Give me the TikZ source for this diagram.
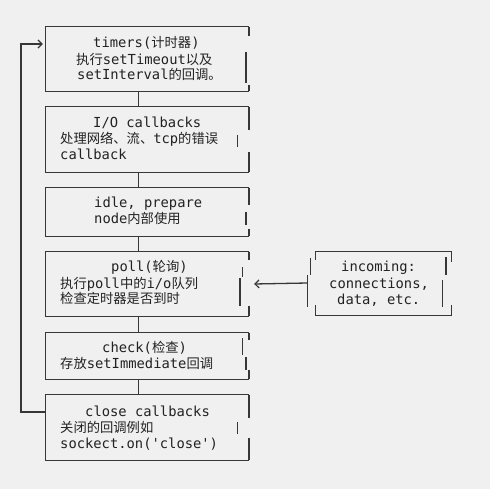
\documentclass[tikz,border=0pt]{standalone}
\usepackage{fontspec}
\setmonofont{DejaVu Sans Mono}
\newfontfamily\zhfont{Noto Sans CJK SC}
\newcommand\zh[1]{{\zhfont\fontsize{13.3}{16}\selectfont #1}}
\usetikzlibrary{arrows.meta,calc}
\definecolor{bgc}{RGB}{240,240,240}
\definecolor{lnc}{RGB}{55,55,55}
\definecolor{txc}{RGB}{34,34,34}
\begin{document}
\begin{tikzpicture}[x=1pt,y=1pt,
  boxn/.style={draw=none,rectangle,inner sep=0,minimum width=203pt},
  ln/.style={draw=lnc,line width=1.3pt},
  lbl/.style={anchor=base west,inner sep=0,text=txc,font=\ttfamily\fontsize{13.8}{16}\selectfont}]
\fill[bgc] (0,0) rectangle (490,-489);
\useasboundingbox (0,0) rectangle (490,-489);
% box nodes
\node[boxn,minimum height=64pt] (b1) at (147.5,-59) {};
\node[boxn,minimum height=65pt] (b2) at (147.5,-139.5) {};
\node[boxn,minimum height=48pt] (b3) at (147.5,-212) {};
\node[boxn,minimum height=64pt] (b4) at (147.5,-284) {};
\node[boxn,minimum height=46pt] (b5) at (147.5,-356) {};
\node[boxn,minimum height=65pt] (b6) at (147.5,-427.5) {};
\node[boxn,minimum width=135pt,minimum height=63pt] (inc) at (383.5,-283.5) {};
% box borders (left, top, bottom)
\foreach \b in {b1,b2,b3,b4,b5,b6}{
  \draw[ln] (\b.north east) -- (\b.north west) -- (\b.south west) -- (\b.south east);
}
% ragged right sides
\draw[ln] (249,-27) -- (249,-36);  \draw[ln] (246,-52) -- (246,-83);  \draw[ln] (249,-85) -- (249,-91);
\draw[ln] (249,-107) -- (249,-130); \draw[ln] (237.7,-135) -- (237.7,-147); \draw[ln] (249,-152) -- (249,-172);
\draw[ln] (249,-188) -- (249,-205); \draw[ln] (246,-212) -- (246,-225); \draw[ln] (249,-229) -- (249,-236);
\draw[ln] (249,-252) -- (249,-260); \draw[ln] (242.7,-267) -- (242.7,-277); \draw[ln] (240,-278) -- (240,-306); \draw[ln] (249,-306) -- (249,-316);
\draw[ln] (249,-333) -- (249,-340); \draw[ln] (242.7,-338) -- (242.7,-355); \draw[ln] (246,-357) -- (246,-370); \draw[ln] (249,-370) -- (249,-379);
\draw[ln] (249,-395) -- (249,-418); \draw[ln] (237.7,-422) -- (237.7,-434); \draw[ln] (249,-438) -- (249,-460);
% incoming box
\draw[ln] ([yshift=-8pt]inc.north west) -- (inc.north west) -- (inc.north east) -- ([yshift=-10pt]inc.north east);
\draw[ln] ([yshift=10pt]inc.south west) -- (inc.south west) -- (inc.south east) -- ([yshift=10pt]inc.south east);
\draw[ln] (310.7,-258) -- (310.7,-275); \draw[ln] (307.7,-275) -- (307.7,-307);
\draw[ln] (446,-257) -- (446,-275); \draw[ln] (442.7,-280) -- (442.7,-307);
% connectors
\foreach \a/\c in {b1/b2,b2/b3,b3/b4,b4/b5,b5/b6}{
  \draw[ln] ([xshift=93pt]\a.south west) -- ([xshift=93pt]\c.north west);
}
\coordinate (lpb) at (21,-412);
\coordinate (lpt) at (21,-44);
\draw[ln,-{Straight Barb[length=4pt,width=8pt,line width=1.2pt]}] ([yshift=15.5pt]b6.west) -- (lpb) -- (lpt) -- ([xshift=-3pt,yshift=15pt]b1.west);
\draw[ln,-{Straight Barb[length=4pt,width=8pt,line width=1.2pt]}] ([xshift=-8.5pt,yshift=0.5pt]inc.west) -- ([xshift=5pt]b4.east);
% texts
\node[lbl] (t11) at (93,-48) {timers(\zh{计时器})};
\node[lbl] (t12) at (76,-65) {\zh{执行}setTimeout\zh{以及}};
\node[lbl] (t13) at (77,-80) {setInterval\zh{的回调。}};
\node[lbl] (t21) at (93,-128) {I/O callbacks};
\node[lbl] (t22) at (60,-144) {\zh{处理网络、流、}tcp\zh{的错误}};
\node[lbl] (t23) at (60,-160) {callback};
\node[lbl] (t31) at (94,-208) {idle, prepare};
\node[lbl] (t32) at (94,-224) {node\zh{内部使用}};
\node[lbl] (t41) at (111,-272) {poll(\zh{轮询})};
\node[lbl] (t42) at (60,-288) {\zh{执行}poll\zh{中的}i/o\zh{队列}};
\node[lbl] (t43) at (60,-303) {\zh{检查定时器是否到时}};
\node[lbl] (t51) at (102,-352) {check(\zh{检查})};
\node[lbl] (t52) at (60,-368) {\zh{存放}setImmediate\zh{回调}};
\node[lbl] (t61) at (85,-416) {close callbacks};
\node[lbl] (t62) at (60,-432) {\zh{关闭的回调例如}};
\node[lbl] (t63) at (60,-448) {sockect.on('close')};
\node[lbl] (ti1) at (341,-272) {incoming:};
\node[lbl] (ti2) at (329,-288) {connections,};
\node[lbl] (ti3) at (337,-304) {data, etc.};
\end{tikzpicture}
\end{document}
